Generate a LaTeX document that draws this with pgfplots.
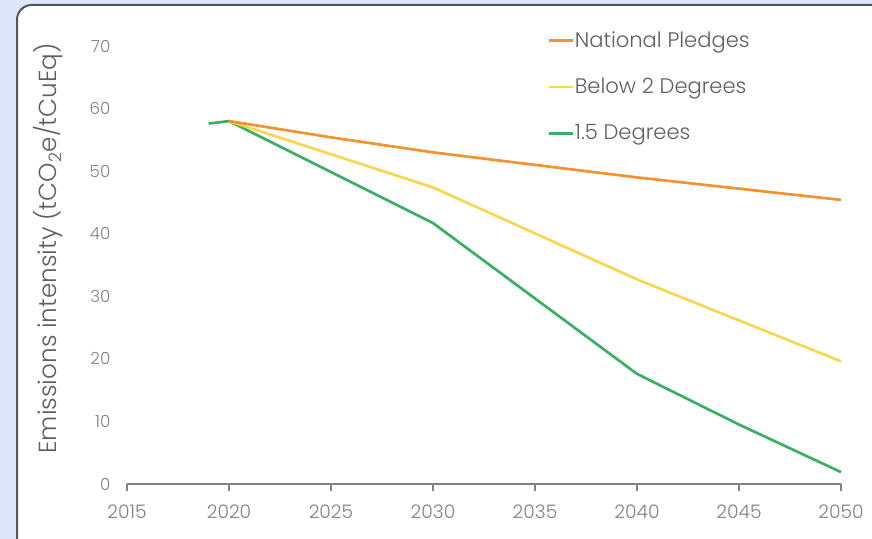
\documentclass[border=0pt]{standalone}
\usepackage{pgfplots}
\pgfplotsset{compat=1.18}
\usepackage{fontspec}
\setmainfont{Poppins}[UprightFont=* Light]
\definecolor{bgblue}{RGB}{221,230,250}
\definecolor{framec}{RGB}{85,85,90}
\definecolor{cOrange}{RGB}{242,146,48}
\definecolor{cYellow}{RGB}{250,214,78}
\definecolor{cGreen}{RGB}{58,174,98}
\definecolor{tickgray}{RGB}{130,130,130}
\definecolor{labgray}{RGB}{95,95,95}
\begin{document}
\begin{tikzpicture}
\useasboundingbox (0,0) rectangle (654pt,404.25pt);
\fill[bgblue] (0,0) rectangle (654pt,404.25pt);
\begin{scope}
\clip (0,0) rectangle (654pt,404.25pt);
\draw[fill=white, rounded corners=11pt, line width=1.5pt, draw=framec] (12.75pt,-20pt) rectangle (690pt,400.5pt);
\end{scope}
\begin{axis}[
  at={(95.25pt,41.25pt)}, anchor=south west,
  scale only axis, width=535.5pt, height=328.5pt,
  xmin=2015, xmax=2050, ymin=0, ymax=70,
  axis x line=bottom, axis y line=left,
  y axis line style={draw=none},
  x axis line style={draw=tickgray, line width=0.8pt, -},
  xtick={2015,2020,...,2050}, ytick={0,10,...,70},
  xtick style={draw=tickgray, line width=0.8pt},
  ytick style={draw=none},
  tick align=outside, major tick length=5pt,
  /pgf/number format/assume math mode=true,
  /pgf/number format/1000 sep={},
  xticklabel style={font=\fontsize{14}{16}\selectfont, text=tickgray, yshift=-7pt},
  yticklabel style={font=\fontsize{12.5}{14}\selectfont, text=tickgray, xshift=-4pt},
  ylabel={Emissions intensity (tCO\textsubscript{2}e/tCuEq)},
  ylabel style={at={(rel axis cs:-0.11,0.538)}, anchor=center, font=\fontsize{18.5}{20}\selectfont, text=labgray},
  clip=false,
  legend style={at={(rel axis cs:0.583,1.039)}, anchor=north west, draw=none, fill=none,
    font=\fontsize{15.8}{18}\selectfont, text=labgray, row sep=21.5pt,
    nodes={inner xsep=0.5pt, inner ysep=0pt}},
  legend image code/.code={\draw[#1] (0pt,0pt) -- (18pt,0pt);},
  legend cell align=left,
  reverse legend,
]
\addplot[cGreen, line width=2pt] coordinates {(2019,57.6)(2020,58.0)(2030,41.7)(2040,17.6)(2045,9.5)(2050,1.9)};
\addlegendentry{1.5 Degrees}
\addplot[cYellow, line width=2pt] coordinates {(2020,58.0)(2030,47.4)(2040,32.7)(2050,19.6)};
\addlegendentry{Below 2 Degrees}
\addplot[cOrange, line width=2pt] coordinates {(2020,58.0)(2025,55.4)(2030,53.0)(2040,49.0)(2050,45.4)};
\addlegendentry{National Pledges}
\end{axis}
\end{tikzpicture}
\end{document}
